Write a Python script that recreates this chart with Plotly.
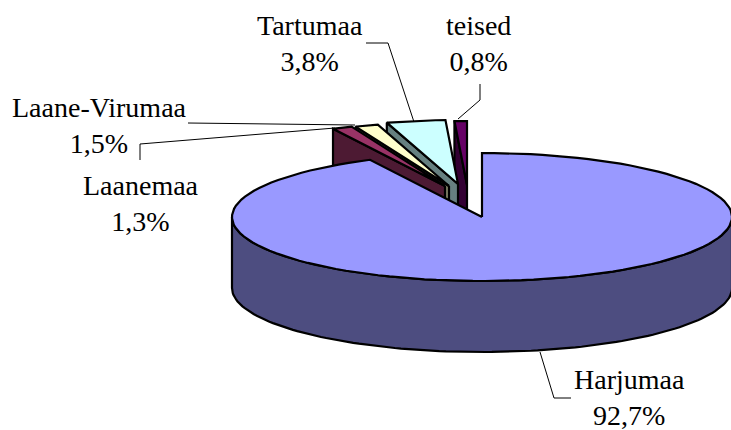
import numpy as np
import plotly.graph_objects as go

# --- data ---
categories = ["Harjumaa", "Laanemaa", "Laane-Virumaa", "Tartumaa", "teised"]
values = [92.7, 1.3, 1.5, 3.8, 0.8]

# --- styling / geometry of the 3D look (not data) ---
top_colors = ["#9999FF", "#993366", "#FFFFCC", "#CCFFFF", "#660066"]
wall_colors = ["#4D4D80", "#4D1A33", "#808066", "#668080", "#330033"]
apexes = [(482, 217), (445, 186), (449, 186), (458, 184), (467, 185)]
RX, RY, DEPTH = 250, 64, 71
draw_order = [4, 3, 2, 1, 0]
label_pos = [(629, 397), (141, 203), (99, 125), (310, 43), (478, 43)]
leaders = [
    [(540, 352), (554, 398), (571, 398)],
    [(140, 160), (140, 144), (335, 128)],
    [(188, 123), (355, 125)],
    [(366, 43), (388, 43), (414, 122)],
    [(480, 84), (480, 100), (458, 119)],
]

total = sum(values)
edges = np.concatenate([[0], np.cumsum(values)]) / total * 2 * np.pi


def arc(apex, a0, a1, n=120, drop=0):
    t = np.linspace(a0, a1, n)
    return apex[0] + RX * np.sin(t), apex[1] - RY * np.cos(t) + drop


fig = go.Figure()


def poly(xs, ys, color, width=2.2):
    fig.add_trace(go.Scatter(x=list(xs), y=list(ys), mode="lines", fill="toself",
                             fillcolor=color, line=dict(color="black", width=width),
                             hoverinfo="skip", showlegend=False))


for pts in leaders:
    fig.add_trace(go.Scatter(x=[p[0] for p in pts], y=[p[1] for p in pts], mode="lines",
                             line=dict(color="black", width=1), hoverinfo="skip",
                             showlegend=False))

for i in draw_order:
    a0, a1 = edges[i], edges[i + 1]
    ax, ay = apexes[i]
    if i == 0:
        # visible outer wall: front half of the rim
        x1, y1 = arc(apexes[i], np.pi / 2, 3 * np.pi / 2)
        poly(np.r_[x1, x1[::-1], x1[0]], np.r_[y1, y1[::-1] + DEPTH, y1[0]], wall_colors[i])
    else:
        # radial side face on the start edge
        sx, sy = arc(apexes[i], a0, a0, n=1)
        poly([ax, sx[0], sx[0], ax, ax], [ay, sy[0], sy[0] + DEPTH, ay + DEPTH, ay], wall_colors[i])
    x1, y1 = arc(apexes[i], a0, a1)
    poly(np.r_[ax, x1, ax], np.r_[ay, y1, ay], top_colors[i])

for name, v, (lx, ly) in zip(categories, values, label_pos):
    fig.add_annotation(x=lx, y=ly, text=f"{name}<br>{v:.1f}%".replace(".", ","),
                       showarrow=False, xanchor="center", yanchor="middle", align="center",
                       font=dict(family="Liberation Serif", size=28, color="black"))

fig.update_xaxes(range=[0, 731], visible=False, fixedrange=True)
fig.update_yaxes(range=[430, 0], visible=False, fixedrange=True)
fig.update_layout(width=731, height=430, margin=dict(l=0, r=0, t=0, b=0),
                  paper_bgcolor="white", plot_bgcolor="white", showlegend=False)
fig.write_html("out.html", config={"displayModeBar": False},
               post_script="document.body.style.margin='0';document.body.style.overflow='hidden';")
